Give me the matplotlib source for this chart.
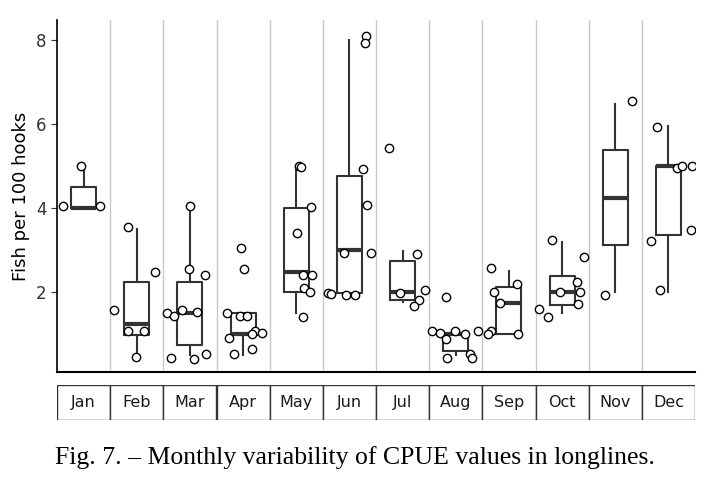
import numpy as np
import matplotlib.pyplot as plt
from matplotlib.patches import Rectangle

months = ["Jan", "Feb", "Mar", "Apr", "May", "Jun", "Jul", "Aug", "Sep", "Oct", "Nov", "Dec"]

# box stats: (whislo, q1, med, q3, whishi)
box_stats = [
    (4.0, 4.0, 4.0, 4.5, 5.0),
    (0.45, 0.98, 1.24, 2.25, 3.5),
    (0.5, 0.74, 1.49, 2.25, 4.05),
    (0.5, 0.98, 1.0, 1.49, 1.49),
    (1.49, 1.99, 2.48, 4.0, 5.0),
    (1.98, 1.98, 3.0, 4.76, 8.0),
    (1.76, 1.81, 2.01, 2.75, 2.98),
    (0.5, 0.6, 1.0, 1.01, 1.01),
    (1.0, 1.0, 1.75, 2.13, 2.49),
    (1.49, 1.68, 2.01, 2.38, 3.2),
    (1.99, 3.12, 4.25, 5.38, 6.49),
    (2.0, 3.37, 5.0, 5.0, 5.95),
]

# jittered points: values and horizontal offsets (fraction of panel width)
pt_vals = [
    [4.05, 5.0, 4.05],
    [3.55, 2.47, 1.57, 1.08, 1.07, 0.45],
    [4.05, 2.55, 2.41, 1.50, 1.43, 1.58, 1.52, 0.44, 0.41, 0.52],
    [3.06, 2.55, 1.51, 1.42, 1.43, 0.90, 1.08, 1.02, 1.0, 0.52, 0.64],
    [5.0, 4.97, 4.03, 3.4, 2.4, 2.4, 2.1, 1.99, 1.41],
    [8.1, 7.93, 4.93, 4.07, 2.94, 2.94, 1.97, 1.96, 1.94, 1.94],
    [5.43, 2.9, 2.06, 1.98, 1.81, 1.67],
    [1.89, 1.06, 1.02, 1.06, 1.0, 0.87, 1.06, 0.42, 0.52, 0.42],
    [2.58, 2.18, 2.01, 1.73, 1.07, 1.0, 1.0],
    [3.25, 2.84, 2.23, 2.0, 2.0, 1.71, 1.59, 1.41],
    [6.55, 1.93],
    [5.92, 4.95, 5.0, 5.0, 3.48, 3.21, 2.05],
]
pt_offs = [
    [-0.38, -0.04, 0.30],
    [-0.16, 0.35, -0.42, -0.17, 0.13, -0.01],
    [0.01, -0.01, 0.29, -0.43, -0.30, -0.14, 0.13, -0.36, 0.08, 0.31],
    [-0.03, 0.01, -0.30, -0.06, 0.08, -0.27, 0.22, 0.35, 0.16, -0.18, 0.16],
    [0.06, 0.09, 0.27, 0.01, 0.12, 0.30, 0.14, 0.26, 0.13],
    [0.31, 0.29, 0.25, 0.33, 0.40, -0.10, -0.41, -0.34, -0.07, 0.10],
    [-0.26, 0.28, 0.43, -0.05, 0.31, 0.22],
    [-0.19, -0.44, -0.30, -0.01, 0.17, -0.18, 0.42, -0.16, 0.27, 0.30],
    [-0.33, 0.16, -0.28, -0.17, -0.34, -0.40, 0.18],
    [-0.19, 0.42, 0.28, 0.33, -0.03, 0.30, -0.44, -0.27],
    [0.32, -0.19],
    [-0.22, 0.17, 0.25, 0.44, 0.42, -0.32, -0.16],
]

fig = plt.figure(figsize=(7.09, 4.84), dpi=100)
ax = fig.add_axes([57 / 709, 1 - 372 / 484, 638 / 709, 352 / 484])
n = len(months)
ax.set_xlim(0, n)
ax.set_ylim(0.095, 8.48)

for i in range(1, n):
    ax.axvline(i, color="#c8c8c8", lw=1, zorder=0)

stats = []
for i, (lo, q1, med, q3, hi) in enumerate(box_stats):
    stats.append(dict(whislo=lo, q1=q1, med=med, q3=q3, whishi=hi, fliers=[]))
ax.bxp(stats, positions=np.arange(n) + 0.5, widths=0.47, showcaps=False,
       boxprops=dict(color="#333333", lw=1.5),
       whiskerprops=dict(color="#333333", lw=1.5),
       medianprops=dict(color="#333333", lw=3), manage_ticks=False)

for i in range(n):
    x = i + 0.5 + np.array(pt_offs[i])
    ax.scatter(x, pt_vals[i], s=36, facecolors="white", edgecolors="black",
               linewidths=1, zorder=3)

ax.set_xticks([])
ax.set_yticks([2, 4, 6, 8])
ax.tick_params(axis="y", labelsize=12, length=4, colors="#333333", labelcolor="#333333")
for s in ["top", "right"]:
    ax.spines[s].set_visible(False)
ax.spines["left"].set_linewidth(1.2)
ax.spines["bottom"].set_linewidth(1.5)
ax.set_ylabel("Fish per 100 hooks", fontsize=13)

sax = fig.add_axes([57 / 709, 1 - 420 / 484, 638 / 709, 35 / 484])
sax.set_xlim(0, n)
sax.set_ylim(0, 1)
sax.axis("off")
for i, m in enumerate(months):
    sax.add_patch(Rectangle((i, 0), 1, 1, facecolor="white", edgecolor="#333333", lw=1))
    sax.text(i + 0.5, 0.5, m, ha="center", va="center", fontsize=11.5, color="#1a1a1a")

fig.text(0.5, 1 - 458 / 484, "Fig. 7. \u2013 Monthly variability of CPUE values in longlines.",
         ha="center", va="center", fontsize=18.5, family="Liberation Serif")

fig.savefig("out.png", dpi=100)
